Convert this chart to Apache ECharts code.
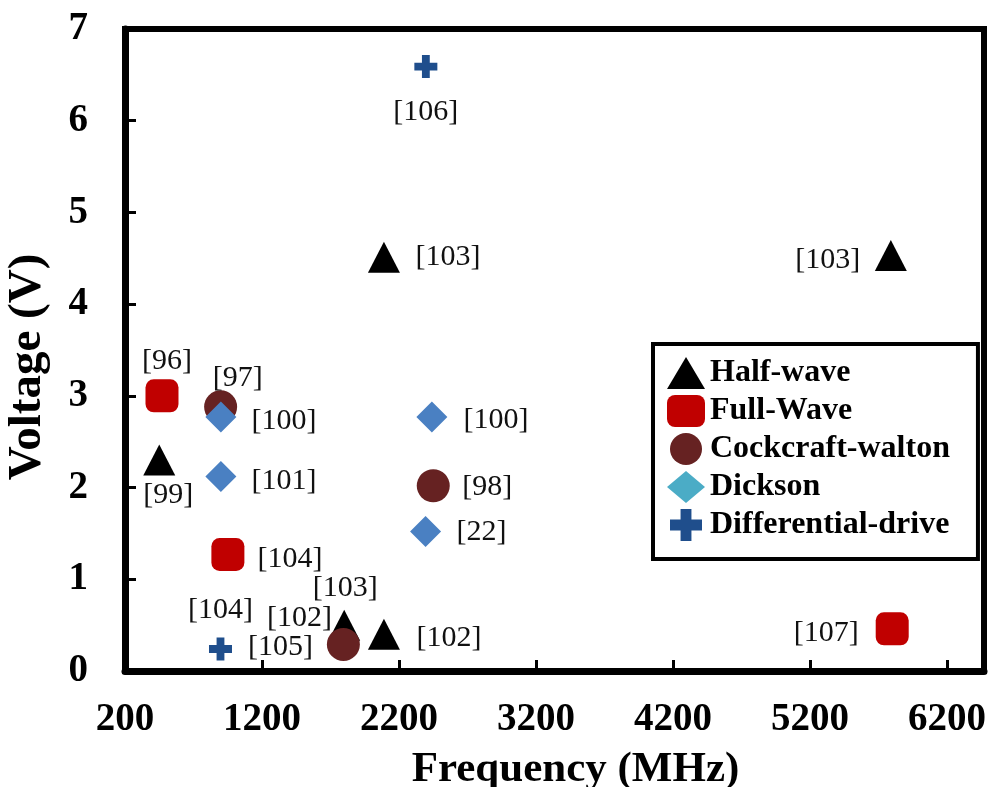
<!DOCTYPE html>
<html>
<head>
<meta charset="utf-8">
<script src="https://cdn.jsdelivr.net/npm/echarts@6/dist/echarts.min.js"></script>
<style>
html,body{margin:0;padding:0;background:#fff;}
#chart{width:989px;height:787px;}
</style>
</head>
<body>
<div id="chart"></div>
<script>
// ---- data ----
var seriesNames = ['Half-wave', 'Full-Wave', 'Cockcraft-walton', 'Dickson', 'Differential-drive'];

var halfWaveX = [450, 2090, 5790, 1800, 2090];
var halfWaveY = [2.3, 4.51, 4.53, 0.5, 0.40];
var halfWaveRef = ['[99]', '[103]', '[103]', '[103]', '[102]'];

var fullWaveX = [470, 951, 5800];
var fullWaveY = [3.0, 1.27, 0.46];
var fullWaveRef = ['[96]', '[104]', '[107]'];

var cockcroftX = [898, 2450, 1794];
var cockcroftY = [2.88, 2.02, 0.29];
var cockcroftRef = ['[97]', '[98]', '[102]'];

var dicksonX = [900, 2440, 900, 2394];
var dicksonY = [2.77, 2.77, 2.12, 1.52];
var dicksonRef = ['[100]', '[100]', '[101]', '[22]'];

var diffDriveX = [2396, 897];
var diffDriveY = [6.59, 0.24];
var diffDriveRef = ['[106]', '[105]'];

// free-standing reference note (no marker)
var noteX = [897];
var noteY = [0.66];
var noteRef = ['[104]'];

var xTicks = [200, 1200, 2200, 3200, 4200, 5200, 6200];
var yTicks = [0, 1, 2, 3, 4, 5, 6, 7];

// ---- styling (label offsets in pixels, per point) ----
var halfWaveOff = [[9, 35], [64, 0], [-63, 5], [1, -37], [65, 4]];
var fullWaveOff = [[5, -35], [62, 5], [-66, 4]];
var cockcroftOff = [[17, -29], [54, 1], [-44, -26]];
var dicksonOff = [[63, 4], [64, 3], [63, 5], [56, 1]];
var diffDriveOff = [[0, 46], [60, -2]];

var serif = '"Liberation Serif", "Times New Roman", serif';
var plusPath = 'path://M3.3,0 H6.7 V3.3 H10 V6.7 H6.7 V10 H3.3 V6.7 H0 V3.3 H3.3 Z';

function build(xs, ys, refs, offs) {
  return xs.map(function (x, i) {
    return {
      name: refs[i],
      value: [x, ys[i]],
      label: { offset: offs ? offs[i] : [0, 0] }
    };
  });
}

var labelBase = {
  show: true,
  position: 'inside',
  formatter: '{b}',
  fontFamily: serif,
  fontSize: 30,
  color: '#111',
  align: 'center',
  verticalAlign: 'middle'
};

function scatter(name, data, symbol, size, color) {
  return {
    name: name,
    type: 'scatter',
    data: data,
    symbol: symbol,
    symbolSize: size,
    itemStyle: { color: color, opacity: 1 },
    label: labelBase,
    emphasis: { disabled: true }
  };
}

var chart = echarts.init(document.getElementById('chart'), null, { renderer: 'canvas' });
var option = {
  backgroundColor: '#fff',
  animation: false,
  grid: {
    left: 125, right: 5, top: 29, bottom: 116,
    outerBoundsMode: 'none',
    containLabel: false,
    show: true, borderColor: '#000', borderWidth: 6, backgroundColor: 'transparent'
  },
  xAxis: {
    type: 'value',
    min: xTicks[0], max: 6470, interval: 1000,
    name: 'Frequency (MHz)',
    nameLocation: 'middle',
    nameGap: 77,
    nameTextStyle: { fontFamily: serif, fontWeight: 'bold', fontSize: 43, color: '#000', padding: [0, 0, 0, 42] },
    axisLine: { show: true, lineStyle: { color: '#000', width: 7 } },
    axisTick: { show: true, inside: true, length: 11, lineStyle: { color: '#000', width: 3 } },
    axisLabel: {
      fontFamily: serif, fontWeight: 'bold', fontSize: 39, color: '#000', margin: 29, showMaxLabel: false,
      formatter: function (v) { return String(v); }
    },
    splitLine: { show: false }
  },
  yAxis: {
    type: 'value',
    min: yTicks[0], max: yTicks[yTicks.length - 1], interval: 1,
    name: 'Voltage (V)',
    nameLocation: 'middle',
    nameGap: 74,
    nameTextStyle: { fontFamily: serif, fontWeight: 'bold', fontSize: 47, color: '#000', padding: [0, 34, 0, 0] },
    axisLine: { show: true, lineStyle: { color: '#000', width: 7 } },
    axisTick: { show: true, inside: true, length: 11, lineStyle: { color: '#000', width: 3 } },
    axisLabel: { fontFamily: serif, fontWeight: 'bold', fontSize: 39, color: '#000', margin: 37 },
    splitLine: { show: false }
  },
  legend: {
    orient: 'vertical',
    left: 653, top: 344,
    backgroundColor: '#fff',
    borderColor: '#000', borderWidth: 4, borderRadius: 0,
    padding: [13, 28, 18, 14],
    itemGap: 6, itemWidth: 38, itemHeight: 32,
    textStyle: { fontFamily: serif, fontWeight: 'bold', fontSize: 32, color: '#000' },
    data: [
      { name: seriesNames[0] },
      { name: seriesNames[1] },
      { name: seriesNames[2] },
      { name: seriesNames[3], itemStyle: { color: '#4bacc6' } },
      { name: seriesNames[4] }
    ],
    selectedMode: false
  },
  series: [
    scatter(seriesNames[0], build(halfWaveX, halfWaveY, halfWaveRef, halfWaveOff), 'triangle', [32, 31], '#000'),
    scatter(seriesNames[1], build(fullWaveX, fullWaveY, fullWaveRef, fullWaveOff), 'roundRect', 33, '#c00000'),
    scatter(seriesNames[2], build(cockcroftX, cockcroftY, cockcroftRef, cockcroftOff), 'circle', 33, '#662222'),
    scatter(seriesNames[3], build(dicksonX, dicksonY, dicksonRef, dicksonOff), 'diamond', 31, '#4a80c2'),
    scatter(seriesNames[4], build(diffDriveX, diffDriveY, diffDriveRef, diffDriveOff), plusPath, 23, '#1f4e8c'),
    {
      name: 'notes',
      type: 'scatter',
      data: build(noteX, noteY, noteRef, null),
      symbolSize: 0,
      itemStyle: { opacity: 1 },
      label: labelBase,
      emphasis: { disabled: true },
      z: 3
    }
  ]
};
chart.setOption(option);
</script>
</body>
</html>
